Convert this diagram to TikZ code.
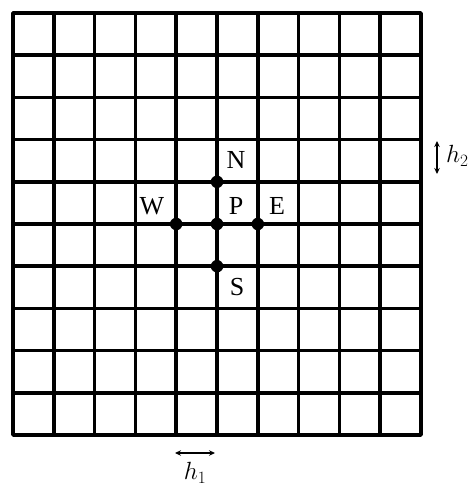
\documentclass[tikz,border=0pt]{standalone}
\usepackage{fontspec}
\setmainfont{Liberation Serif}
\usetikzlibrary{arrows.meta}
\begin{document}
\begin{tikzpicture}[x=1pt,y=-1pt,
  gridline/.style={line width=3.6pt,line cap=round,line join=round},
  dot/.style={circle,fill=black,inner sep=0pt,minimum size=12.5pt},
  lab/.style={font=\fontsize{26}{26}\selectfont,inner sep=0pt},
  dim/.style={line width=1.6pt,{Stealth[length=6pt,width=5.5pt]}-{Stealth[length=6pt,width=5.5pt]}},
  mlab/.style={font=\fontsize{25}{25}\selectfont,inner sep=0pt}]
\useasboundingbox (0,0) rectangle (474,489);
\def\gx{40.8}
\def\gy{42.2}
% grid
\foreach \i in {1,...,9} {
  \draw[gridline] ({13+\gx*\i},13) -- ({13+\gx*\i},435);
  \draw[gridline] (13,{13+\gy*\i}) -- (421,{13+\gy*\i});
}
\draw[gridline] (13,13) rectangle (421,435);
% stencil points
\node[dot] (N) at ({13+5*\gx},{13+4*\gy}) {};
\node[dot] (P) at ({13+5*\gx},{13+5*\gy}) {};
\node[dot] (W) at ({13+4*\gx},{13+5*\gy}) {};
\node[dot] (E) at ({13+6*\gx},{13+5*\gy}) {};
\node[dot] (S) at ({13+5*\gx},{13+6*\gy}) {};
% labels
\node[lab] (Nl) at (236,160) {N};
\node[lab] (Pl) at (236,206) {P};
\node[lab] (Wl) at (152,206) {W};
\node[lab] (El) at (277,206) {E};
\node[lab] (Sl) at (237,287) {S};
% spacing markers
\coordinate (h2a) at (437,141);
\coordinate (h2b) at (437,174);
\draw[dim] (h2a) -- (h2b);
\node[mlab,anchor=west] (h2) at (446,156) {$h_2$};
\coordinate (h1a) at (175,453);
\coordinate (h1b) at (215,453);
\draw[dim] (h1a) -- (h1b);
\node[mlab] (h1) at (195,473) {$h_1$};
\end{tikzpicture}
\end{document}
